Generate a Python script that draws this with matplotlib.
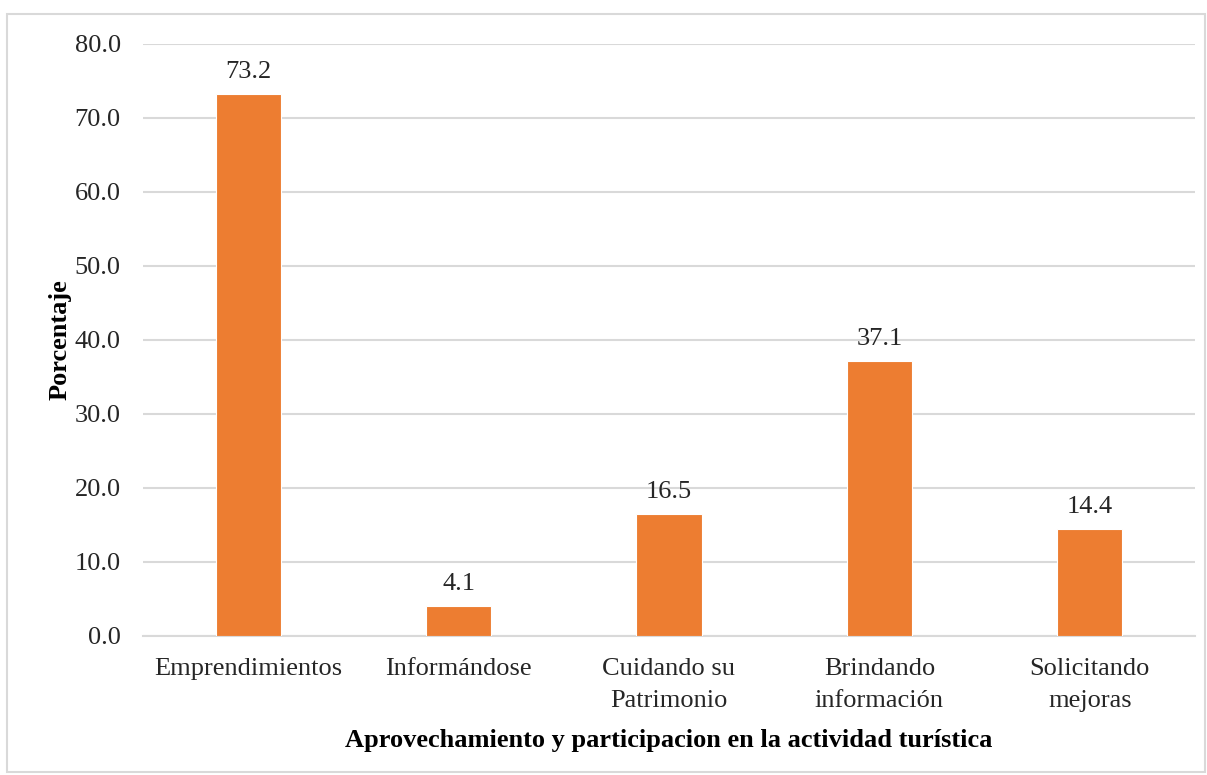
import matplotlib
matplotlib.use("Agg")
import matplotlib.pyplot as plt
from matplotlib.patches import Rectangle

categories = ["Emprendimientos", "Informándose", "Cuidando su\nPatrimonio",
              "Brindando\ninformación", "Solicitando\nmejoras"]
values = [73.2, 4.1, 16.5, 37.1, 14.4]
yticks = [0, 10, 20, 30, 40, 50, 60, 70, 80]

plt.rcParams['font.family'] = ['Liberation Serif', 'DejaVu Serif']
FS = 19

fig = plt.figure(figsize=(12.07, 7.75), dpi=100)
fig.patches.append(Rectangle((7/1207, 1-772/775), 1198/1207, 758/775,
                             transform=fig.transFigure, fill=False,
                             edgecolor='#D9D9D9', linewidth=1.5))
ax = fig.add_axes([143/1207, 1-636/775, 1052/1207, 592/775])

x = list(range(len(categories)))
bars = ax.bar(x, values, width=0.31, color='#ED7D31', edgecolor='white',
              linewidth=0.8, zorder=3)
for xi, v in zip(x, values):
    ax.annotate(f"{v:.1f}", (xi, v), xytext=(0, 8), textcoords='offset points',
                ha='center', va='bottom', fontsize=FS, color='#262626')

ax.set_xlim(-0.5, 4.5)
ax.set_ylim(0, 80)
ax.set_yticks(yticks)
ax.set_yticklabels([f"{t:.1f}" for t in yticks], fontsize=FS, color='#262626')
ax.set_xticks(x)
ax.set_xticklabels(categories, fontsize=FS, color='#262626', linespacing=1.6)
ax.tick_params(axis='y', length=0, pad=16)
ax.tick_params(axis='x', length=0, pad=16)
ax.grid(axis='y', color='#D9D9D9', linewidth=1.5, zorder=0)
ax.set_axisbelow(True)
for s in ['top', 'right', 'left']:
    ax.spines[s].set_visible(False)
ax.spines['bottom'].set_color('#D9D9D9')
ax.spines['bottom'].set_linewidth(1.5)

ax.set_ylabel("Porcentaje", fontsize=FS, fontweight='bold', labelpad=2)
ax.set_xlabel("Aprovechamiento y participacion en la actividad turística",
              fontsize=FS, fontweight='bold', labelpad=12)

fig.savefig("out.png", dpi=100)
